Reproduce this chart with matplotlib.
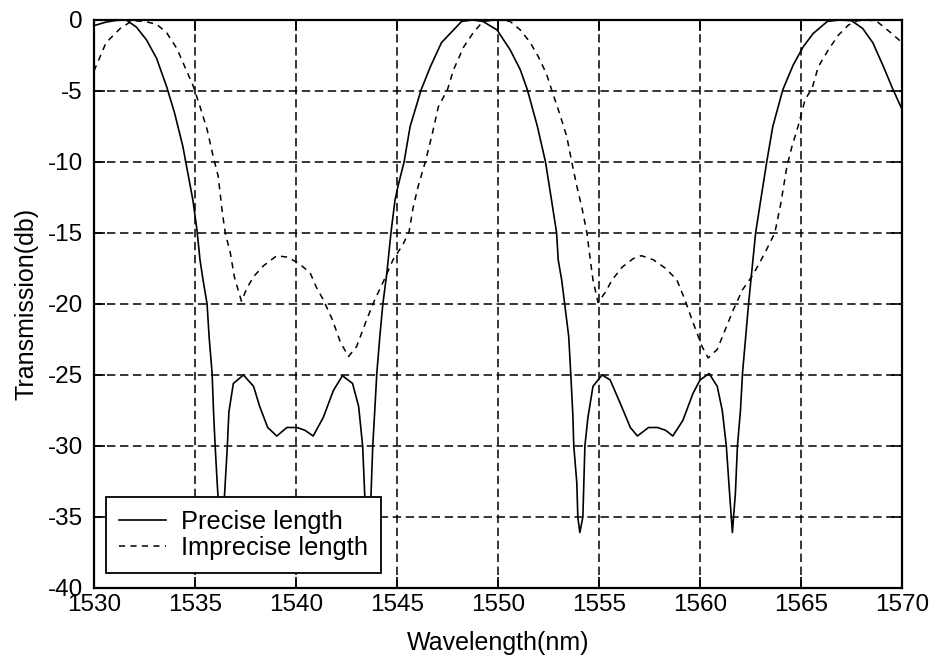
"""
Transmission spectrum of the filter for precise and imprecise segment lengths
"""

import matplotlib
matplotlib.use('Agg')
import matplotlib.pyplot as plt

# Wavelength (nm) and transmission (dB), precise segment length
precise_wl = [
    1530.0, 1530.6, 1531.1, 1531.6, 1532.1, 1532.6, 1533.1, 1533.6, 1534.0,
    1534.4, 1534.65, 1534.9, 1535.1, 1535.25, 1535.4, 1535.6, 1535.7, 1535.85,
    1535.92, 1536.0, 1536.1, 1536.25, 1536.45, 1536.6, 1536.68, 1536.9,
    1537.4, 1537.9, 1538.2, 1538.6, 1539.05, 1539.55, 1540.05, 1540.45,
    1540.85, 1541.35, 1541.85, 1542.3, 1542.8, 1543.1, 1543.3, 1543.42,
    1543.55, 1543.7, 1543.8, 1543.9, 1544.0, 1544.15, 1544.3, 1544.5, 1544.7,
    1544.9, 1545.05, 1545.35, 1545.65, 1546.2, 1546.65, 1547.2, 1547.8,
    1548.2, 1548.75, 1549.25, 1549.95, 1550.6, 1551.1, 1551.45, 1551.95,
    1552.35, 1552.65, 1552.9, 1552.98, 1553.15, 1553.3, 1553.5, 1553.6,
    1553.7, 1553.75, 1553.9, 1553.95, 1554.05, 1554.2, 1554.3, 1554.45,
    1554.7, 1555.15, 1555.55, 1556.05, 1556.55, 1556.9, 1557.45, 1557.9,
    1558.3, 1558.65, 1559.15, 1559.65, 1560.0, 1560.45, 1560.85, 1561.1,
    1561.3, 1561.45, 1561.6, 1561.75, 1561.85, 1562.0, 1562.1, 1562.4,
    1562.75, 1563.0, 1563.3, 1563.6, 1564.1, 1564.6, 1565.1, 1565.6, 1566.3,
    1566.9, 1567.5, 1568.05, 1568.55, 1569.05, 1569.55, 1570.0,
]
precise_db = [
    -0.4, -0.15, -0.03, 0.0, -0.5, -1.4, -2.7, -4.7, -6.6,
    -8.9, -10.8, -12.7, -14.8, -16.9, -18.3, -20.0, -22.3, -24.9,
    -27.6, -30.0, -32.6, -36.0, -33.8, -30.1, -27.6, -25.6,
    -25.0, -25.8, -27.2, -28.7, -29.3, -28.7, -28.7, -28.9,
    -29.3, -28.0, -26.1, -25.05, -25.6, -27.2, -30.0, -34.0,
    -36.0, -34.0, -30.0, -27.5, -24.9, -22.3, -20.0, -17.8, -15.0,
    -12.7, -11.7, -10.0, -7.5, -4.9, -3.3, -1.6, -0.7,
    -0.1, 0.0, -0.1, -0.7, -2.1, -3.5, -4.9, -7.5,
    -10.0, -12.7, -15.0, -16.9, -18.3, -20.0, -22.3, -24.9,
    -27.7, -30.0, -32.6, -35.0, -36.1, -35.0, -30.0, -28.0,
    -25.8, -25.0, -25.35, -27.0, -28.7, -29.3, -28.7, -28.7,
    -28.9, -29.3, -28.2, -26.3, -25.35, -24.9, -25.8, -27.5,
    -30.0, -33.1, -36.1, -33.3, -30.0, -27.5, -24.9, -20.0,
    -15.0, -12.7, -10.0, -7.5, -4.9, -3.2, -1.9, -0.95, -0.1,
    0.0, -0.05, -0.6, -1.6, -3.2, -4.9, -6.3,
]

# Wavelength (nm) and transmission (dB), imprecise segment length
imprecise_wl = [
    1530.0, 1530.6, 1531.3, 1531.9, 1532.5, 1533.1, 1533.6, 1534.1, 1534.5,
    1534.9, 1535.25, 1535.6, 1535.9, 1536.15, 1536.35, 1536.5, 1536.75,
    1536.95, 1537.3, 1537.6, 1537.95, 1538.4, 1539.05, 1539.55, 1540.1,
    1540.7, 1541.0, 1541.35, 1541.8, 1542.2, 1542.6, 1543.0, 1543.5, 1543.9,
    1544.3, 1544.8, 1545.3, 1545.6, 1545.8, 1546.05, 1546.4, 1546.75,
    1547.05, 1547.5, 1547.8, 1548.3, 1548.75, 1549.25, 1549.95, 1550.6,
    1551.1, 1551.6, 1552.0, 1552.4, 1552.65, 1553.05, 1553.4, 1553.65,
    1553.9, 1554.15, 1554.4, 1554.55, 1554.7, 1554.95, 1555.3, 1555.65,
    1556.15, 1556.7, 1557.1, 1557.7, 1558.3, 1558.85, 1559.25, 1559.65,
    1560.1, 1560.4, 1560.85, 1561.25, 1561.65, 1562.1, 1562.55, 1562.95,
    1563.35, 1563.7, 1564.0, 1564.3, 1564.55, 1564.85, 1565.2, 1565.55,
    1565.85, 1566.35, 1566.85, 1567.35, 1567.8, 1568.3, 1568.75, 1569.4,
    1570.0,
]
imprecise_db = [
    -3.6, -1.6, -0.6, -0.05, -0.1, -0.3, -0.9, -2.0, -3.3,
    -4.6, -6.1, -7.7, -9.6, -11.0, -13.5, -15.0, -16.4,
    -18.1, -19.8, -18.8, -18.0, -17.3, -16.6, -16.7, -17.1,
    -17.8, -18.8, -19.7, -21.1, -22.7, -23.7, -23.0, -21.1, -19.7,
    -18.5, -16.9, -15.8, -14.9, -13.2, -11.7, -10.0, -8.0,
    -6.1, -4.9, -3.5, -1.9, -0.95, -0.1, 0.0, -0.1,
    -0.7, -1.6, -2.6, -3.8, -4.9, -6.6, -8.2, -10.0,
    -11.7, -13.2, -15.0, -16.7, -18.3, -19.9, -19.2, -18.3,
    -17.4, -16.8, -16.6, -16.9, -17.5, -18.3, -19.7, -21.3,
    -23.0, -23.8, -23.2, -21.8, -20.4, -19.0, -18.1, -17.1,
    -16.0, -15.0, -12.9, -10.3, -8.9, -7.5, -5.6, -4.8,
    -3.3, -2.1, -1.06, -0.35, -0.05, 0.0, -0.1, -0.85,
    -1.6,
]

x_ticks = [1530, 1535, 1540, 1545, 1550, 1555, 1560, 1565, 1570]
y_ticks = [-40, -35, -30, -25, -20, -15, -10, -5, 0]


def main():
    """
    Main function
    """
    plt.rcParams['font.family'] = ['Liberation Sans']
    plt.rcParams['font.size'] = 17.5
    plt.rcParams['axes.unicode_minus'] = False

    fig = plt.figure(figsize=(9.3, 6.61), dpi=100)
    ax = fig.add_axes([0.101, 0.1105, 0.869, 0.8593])

    ax.plot(precise_wl, precise_db, color='k', linewidth=1.2,
            label='Precise length')
    ax.plot(imprecise_wl, imprecise_db, color='k', linewidth=1.1,
            linestyle=(0, (4, 3.5)), label='Imprecise length')

    ax.set_xlim(1530, 1570)
    ax.set_ylim(-40, 0)
    ax.set_xticks(x_ticks)
    ax.set_yticks(y_ticks)
    ax.grid(True, color='k', linestyle=(0, (5.5, 3)), linewidth=1.1)
    ax.tick_params(direction='in', length=8, width=1.2, top=True, right=True,
                   color='k')
    ax.tick_params(axis='x', pad=4.5)
    ax.tick_params(axis='y', pad=8)
    for spine in ax.spines.values():
        spine.set_linewidth(1.6)

    ax.set_xlabel('Wavelength(nm)', fontsize=18)
    ax.set_ylabel('Transmission(db)', fontsize=18)
    ax.xaxis.set_label_coords(0.5, -0.075)
    ax.yaxis.set_label_coords(-0.069, 0.5)

    leg = ax.legend(loc='lower left', bbox_to_anchor=(0.0149, 0.0264),
                    borderaxespad=0, fancybox=False, edgecolor='k',
                    framealpha=1, fontsize=18.3, handlelength=1.85,
                    handletextpad=0.6, borderpad=0.5, labelspacing=0.1)
    leg.get_frame().set_linewidth(1.3)

    fig.savefig('out.png', dpi=100)


if __name__ == "__main__":
    main()
